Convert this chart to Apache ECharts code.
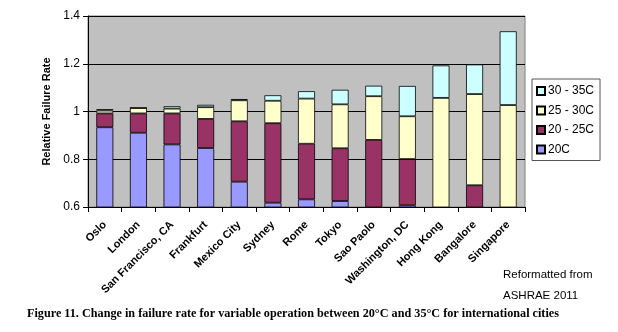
<!DOCTYPE html>
<html><head><meta charset="utf-8">
<script src="https://cdn.jsdelivr.net/npm/echarts@6/dist/echarts.min.js"></script>
<style>html,body{margin:0;padding:0;background:#fff}#c{width:618px;height:332px}</style>
</head><body><div id="c"></div>
<script>
const cities = ['Oslo','London','San Francisco, CA','Frankfurt','Mexico City','Sydney','Rome','Tokyo','Sao Paolo','Washington, DC','Hong Kong','Bangalore','Singapore'];
// cumulative tops of each band
const top20   = [0.934,0.911,0.862,0.847,0.706,0.618,0.632,0.625,0,    0.607,0,    0,    0];
const top2025 = [0.992,0.992,0.992,0.969,0.959,0.951,0.865,0.846,0.881,0.801,0,    0.691,0];
const top2530 = [1.004,1.015,1.012,1.018,1.047,1.045,1.054,1.030,1.064,0.980,1.057,1.073,1.027];
const top3035 = [1.010,1.015,1.022,1.028,1.052,1.068,1.085,1.091,1.108,1.107,1.193,1.197,1.336];
const yTicks = [0.6,0.8,1,1.2,1.4];
const names = ['20C','20 - 25C','25 - 30C','30 - 35C'];
const colors = ['#9999FF','#993366','#FFFFCC','#CCFFFF'];

const tops = [top20, top2025, top2530, top3035];
const segs = tops.map((t,k)=>t.map((v,i)=>{
  let prev = 0;
  for (let j=k-1;j>=0;j--){ if (tops[j][i]>prev) prev = tops[j][i]; }
  const d = v - prev;
  return d>0 ? +d.toFixed(4) : 0;
}));

const chart = echarts.init(document.getElementById('c'), null, {renderer:'canvas'});
chart.setOption({
  animation:false,
  textStyle:{fontFamily:'Liberation Sans, Arial, sans-serif'},
  grid:{left:88,right:93,top:16,bottom:125,show:true,backgroundColor:'#C0C0C0',borderColor:'#808080',borderWidth:1},
  legend:{
    orient:'vertical', left:532, top:79, width:66, height:73,
    data:names.slice().reverse(),
    backgroundColor:'#fff', borderColor:'#555', borderWidth:1,
    padding:[6,6,5,4], itemGap:7.5, itemWidth:8, itemHeight:8,
    icon:'rect',
    textStyle:{fontSize:12,color:'#000',padding:[0,0,0,-2]}
  },
  xAxis:{
    type:'category', data:cities,
    axisLine:{lineStyle:{color:'#000'}},
    axisTick:{show:true,alignWithLabel:false,length:5,lineStyle:{color:'#000'}},
    axisLabel:{rotate:45,interval:0,fontSize:11,fontWeight:'bold',color:'#000',margin:16}
  },
  yAxis:{
    type:'value', min:0.6, max:1.4, interval:0.2,
    name:'Relative Failure Rate', nameLocation:'middle', nameGap:28, nameRotate:90,
    nameTextStyle:{fontSize:11,fontWeight:'bold',color:'#000'},
    axisLine:{show:true,lineStyle:{color:'#000'}},
    axisTick:{show:true,length:5,lineStyle:{color:'#000'}},
    axisLabel:{fontSize:12,color:'#000',margin:8,formatter:v=>String(+v.toFixed(1))},
    splitLine:{lineStyle:{color:'#000',width:1}}
  },
  series: names.map((n,k)=>({
    name:n, type:'bar', stack:'a', data:segs[k], barWidth:17,
    itemStyle:{color:colors[k],borderColor:'#000',borderWidth:0.8}
  })),
  graphic:[
    {type:'text',left:503,top:269,style:{text:'Reformatted from',font:'11.5px Liberation Sans, Arial, sans-serif',fill:'#000'}},
    {type:'text',left:503,top:290,style:{text:'ASHRAE 2011',font:'11.5px Liberation Sans, Arial, sans-serif',fill:'#000'}},
    {type:'text',left:27,top:308,style:{
      text:'Figure 11. Change in failure rate for variable operation between 20°C and 35°C for international cities',
      font:'bold 12.2px Liberation Serif, Times New Roman, serif',fill:'#000'
    }}
  ]
});
</script></body></html>
